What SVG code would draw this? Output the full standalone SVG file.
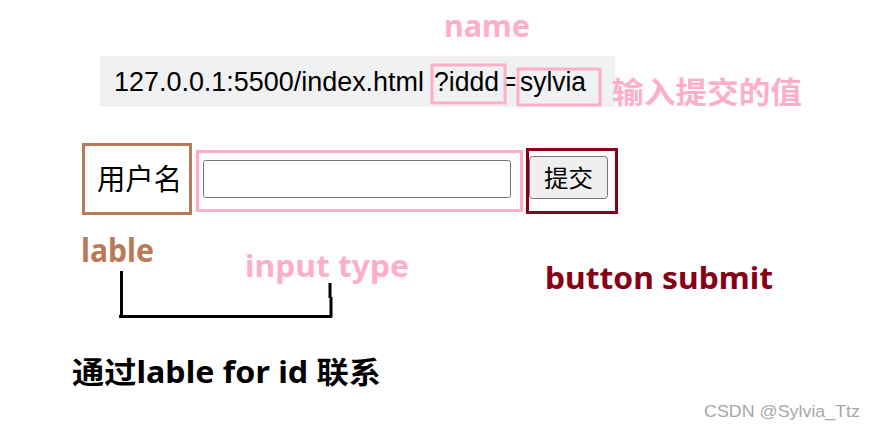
<svg xmlns="http://www.w3.org/2000/svg" width="876" height="429" viewBox="0 0 876 429">
<style>
.ui{font-family:"Noto Sans","Noto Sans CJK SC",sans-serif;fill:#000}
.url{font-family:"Liberation Sans",Arial,sans-serif;font-size:27px;fill:#000}
.lb{font-family:"Noto Sans","Noto Sans CJK SC",sans-serif;font-weight:bold}
.pink{fill:#ffaec9}
.brown{fill:#b97a57}
.dred{fill:#880015}
.hl{fill:none;stroke-width:3}
</style>
<rect width="876" height="429" fill="#fff"/>
<g id="url-bar">
<rect x="100" y="56" width="515" height="51" fill="#f0f1f3"/>
<text class="url" x="114" y="91" textLength="310" lengthAdjust="spacingAndGlyphs">127.0.0.1:5500/index.html</text>
<text class="url" x="434" y="91" textLength="65" lengthAdjust="spacingAndGlyphs">?iddd</text>
<text class="url" x="505" y="91" textLength="11" lengthAdjust="spacingAndGlyphs">=</text>
<text class="url" x="520" y="91" textLength="66" lengthAdjust="spacingAndGlyphs">sylvia</text>
<rect class="hl" x="432" y="65" width="73" height="38" stroke="#ffaec9"/>
<rect class="hl" x="518" y="69" width="82" height="36" stroke="#ffaec9"/>
</g>
<g id="name-label"><text class="lb pink" x="444" y="37" font-size="31" textLength="86" lengthAdjust="spacingAndGlyphs">name</text></g>
<g id="value-label"><text class="lb pink" x="612" y="103" font-size="30" textLength="190" lengthAdjust="spacingAndGlyphs">输入提交的值</text></g>
<g id="label-node">
<rect class="hl" x="83.5" y="144.5" width="107" height="69" stroke="#b97a57"/>
<text class="ui" x="97" y="190" font-size="29" textLength="85" lengthAdjust="spacingAndGlyphs">用户名</text>
</g>
<g id="input-node">
<rect class="hl" x="197.5" y="151.5" width="324" height="59" stroke="#ffaec9"/>
<rect x="203.5" y="160.5" width="307" height="37" rx="2" fill="#fff" stroke="#767676"/>
</g>
<g id="button-node">
<rect class="hl" x="527.5" y="149.5" width="89" height="63" stroke="#880015"/>
<rect x="529.5" y="156.5" width="78" height="42" rx="3" fill="#efefef" stroke="#767676"/>
<text class="ui" x="544" y="187" font-size="24" textLength="49" lengthAdjust="spacingAndGlyphs">提交</text>
</g>
<g id="lable-text"><text class="lb brown" x="81" y="262" font-size="32" textLength="73" lengthAdjust="spacingAndGlyphs">lable</text></g>
<g id="input-type-text"><text class="lb pink" x="245" y="277" font-size="31" textLength="164" lengthAdjust="spacingAndGlyphs">input type</text></g>
<g id="button-submit-text"><text class="lb dred" x="545" y="289" font-size="31" textLength="228" lengthAdjust="spacingAndGlyphs">button submit</text></g>
<g id="connectors">
<polyline points="121.5,271 121.5,316.5 119,316.5 332,316.5" fill="none" stroke="#000" stroke-width="3"/>
<line x1="330" y1="283" x2="330" y2="298" stroke="#000" stroke-width="3"/>
<line x1="331" y1="297" x2="331" y2="317" stroke="#000" stroke-width="3"/>
</g>
<g id="caption"><text class="lb" x="72" y="383" font-size="30" fill="#000" textLength="309" lengthAdjust="spacingAndGlyphs">通过lable for id 联系</text></g>
<g id="watermark"><text x="704" y="417" font-family="Liberation Sans,Arial,sans-serif" font-size="17" fill="#a8a8a8" textLength="156" lengthAdjust="spacingAndGlyphs">CSDN @Sylvia_Ttz</text></g>
</svg>
